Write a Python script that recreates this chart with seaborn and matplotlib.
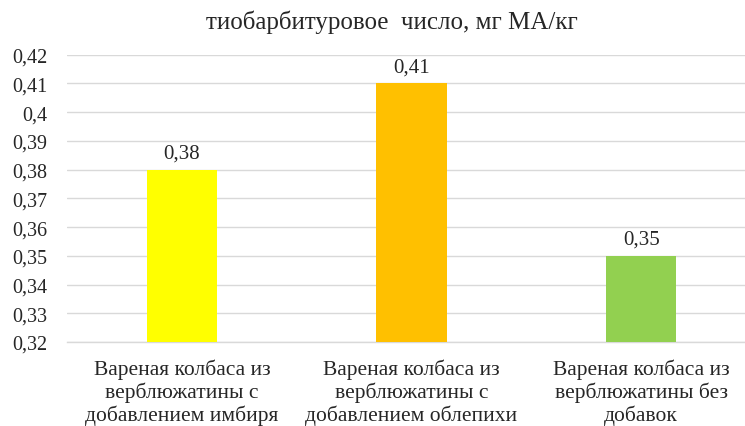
import numpy as np
import pandas as pd
import seaborn as sns
import matplotlib.pyplot as plt

categories = [
    "Вареная колбаса из\nверблюжатины с\nдобавлением имбиря",
    "Вареная колбаса из\nверблюжатины с\nдобавлением облепихи",
    "Вареная колбаса из\nверблюжатины без\nдобавок",
]
values = [0.38, 0.41, 0.35]
bar_colors = ["#FFFF00", "#FFC000", "#92D050"]
y_ticks = [0.32, 0.33, 0.34, 0.35, 0.36, 0.37, 0.38, 0.39, 0.40, 0.41, 0.42]
title = "тиобарбитуровое  число, мг МА/кг"

def fmt(v):
    # comma decimal, no trailing zeros (Excel style)
    return f"{v:.2f}".rstrip("0").rstrip(".").replace(".", ",")

sns.set_style("white")
plt.rcParams['font.family'] = ['Liberation Serif', 'DejaVu Serif']

df = pd.DataFrame({"cat": categories, "val": values})

fig = plt.figure(figsize=(7.45, 4.27), dpi=100)
ax = fig.add_axes([67 / 745, 1 - 343 / 427, 689 / 745, (343 - 55.7) / 427])

sns.barplot(data=df, x="cat", y="val", hue="cat", palette=bar_colors,
            width=0.305, legend=False, saturation=1, linewidth=0,
            ax=ax, zorder=3)

ax.set_ylim(0.32, 0.42)
ax.set_yticks(y_ticks)
ax.set_yticklabels([fmt(t) for t in y_ticks], fontsize=14.5)
ax.grid(axis='y', color='#D9D9D9', linewidth=1, zorder=0)
ax.set_axisbelow(True)
for s in ['top', 'right', 'left']:
    ax.spines[s].set_visible(False)
ax.spines['bottom'].set_color('#D9D9D9')
ax.spines['bottom'].set_linewidth(1)
ax.tick_params(axis='y', length=0, pad=14)
ax.tick_params(axis='x', length=0, pad=12, labelsize=15.5)
for lbl in ax.get_xticklabels():
    lbl.set_linespacing(1.15)
ax.set_xlabel("")
ax.set_ylabel("")

for i, v in enumerate(values):
    ax.annotate(fmt(v), (i, v), xytext=(0, 5), textcoords='offset points',
                ha='center', va='bottom', fontsize=15)

fig.text(392 / 745, 1 - 22 / 427, title, ha='center', va='center', fontsize=18)

fig.savefig("out.png", dpi=100)
